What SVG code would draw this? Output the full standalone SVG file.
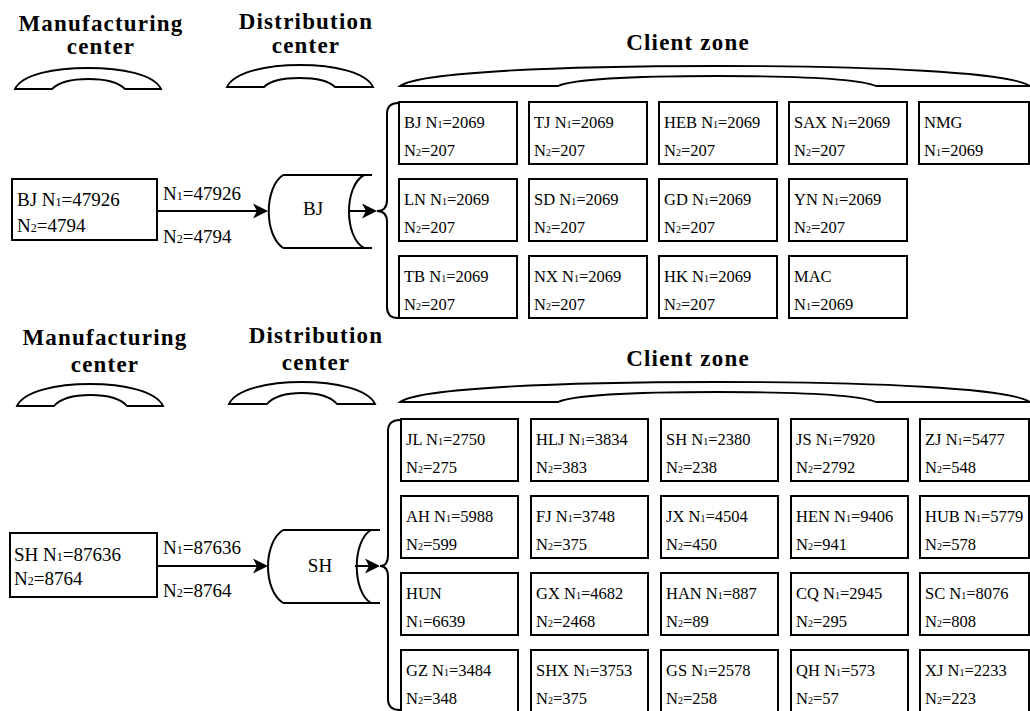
<svg xmlns="http://www.w3.org/2000/svg" width="1030" height="711" viewBox="0 0 1030 711">
<defs>
<marker id="ah" markerUnits="userSpaceOnUse" markerWidth="16" markerHeight="16" refX="13" refY="8" orient="auto" viewBox="0 0 16 16"><path d="M0,0.5 L15,8 L0,15.5 L4,8 Z" fill="#000"/></marker>
</defs>
<style>
.hd{font-family:"Liberation Serif",serif;font-weight:bold;font-size:23px;letter-spacing:1.2px;text-anchor:middle;fill:#000}
.bx{fill:#fff;stroke:#000;stroke-width:2}
.t{font-family:"Liberation Serif",serif;font-size:16.5px;fill:#000}
.s{font-size:10px}
.lt{font-family:"Liberation Serif",serif;font-size:19px;fill:#000}
.lt .s{font-size:12px}
.cy{font-family:"Liberation Serif",serif;font-size:19px;fill:#000;text-anchor:middle}
.br{fill:#fff;stroke:#000;stroke-width:1.8}
.ln{fill:none;stroke:#000;stroke-width:2}
.ar{fill:none;stroke:#000;stroke-width:2;marker-end:url(#ah)}
</style>
<rect width="1030" height="711" fill="#fff"/>

<!-- headers top -->
<g id="hdr-top">
<text class="hd" x="101" y="31">Manufacturing</text>
<text class="hd" x="101" y="54">center</text>
<path class="br" d="M15,89 C22,74 55,68 88,68 C121,68 154,74 161,89 L125,89 C118,82 104,79 88.5,79 C73,79 59,82 52,89 Z"/>
<text class="hd" x="306" y="29">Distribution</text>
<text class="hd" x="306" y="53">center</text>
<path class="br" d="M227,87 C234,72 267,65 300,65 C333,65 366,72 373,87 L335,87 C328,80 314,78 299.5,78 C285,78 271,80 264,87 Z"/>
<text class="hd" x="688" y="50">Client zone</text>
<path class="br" d="M400,86 C420,72 560,66 715,66 C870,66 1010,72 1030,86 L876,86 C860,79 800,76 717,76 C634,76 574,79 558,86 Z"/>
</g>

<!-- headers bottom -->
<g id="hdr-bottom">
<text class="hd" x="105" y="345">Manufacturing</text>
<text class="hd" x="105" y="372">center</text>
<path class="br" d="M17,406 C24,391 57,384 90,384 C123,384 156,391 163,406 L127,406 C120,398 106,395 90.5,395 C75,395 61,398 54,406 Z"/>
<text class="hd" x="316" y="343">Distribution</text>
<text class="hd" x="316" y="370">center</text>
<path class="br" d="M229,404 C236,389 269,382 302,382 C335,382 368,389 375,404 L337,404 C330,396 316,393 302,393 C288,393 274,396 267,404 Z"/>
<text class="hd" x="688" y="366">Client zone</text>
<path class="br" d="M400,402 C420,388 560,382 715,382 C870,382 1010,388 1030,402 L876,402 C860,395 800,392 717,392 C634,392 574,395 558,402 Z"/>
</g>

<!-- connectors -->
<g id="connectors">
<path class="ar" d="M157,211 L266,211"/>
<path class="ar" d="M348,211 L375,211"/>
<path class="ln" d="M398,103 C391,103 387,106 387,114 L387,200 C387,207 384,211 377,211 C384,211 387,215 387,222 L387,307 C387,315 391,318 398,318"/>
<path class="ar" d="M157,566 L266,566"/>
<path class="ar" d="M355,566 L378,566"/>
<path class="ln" d="M400,420 C392,420 388,423 388,431 L388,555 C388,562 385,566 380,566 C385,566 388,570 388,577 L388,699 C388,707 392,710 400,710"/>
<text class="lt" x="163" y="200">N<tspan class="s">1</tspan>=47926</text>
<text class="lt" x="163" y="243">N<tspan class="s">2</tspan>=4794</text>
<text class="lt" x="163" y="554">N<tspan class="s">1</tspan>=87636</text>
<text class="lt" x="163" y="597">N<tspan class="s">2</tspan>=8764</text>
</g>

<!-- source nodes -->
<g id="mfg-BJ">
<rect class="bx" x="12" y="179" width="145" height="61"/>
<text class="lt" x="17" y="206">BJ N<tspan class="s">1</tspan>=47926</text>
<text class="lt" x="17" y="232">N<tspan class="s">2</tspan>=4794</text>
</g>
<g id="mfg-SH">
<rect class="bx" x="10" y="533" width="147" height="64"/>
<text class="lt" x="14" y="561">SH N<tspan class="s">1</tspan>=87636</text>
<text class="lt" x="14" y="585">N<tspan class="s">2</tspan>=8764</text>
</g>

<!-- distribution cylinders -->
<g id="dc-BJ">
<path class="ln" d="M283,175 L372,175 M283,248 L372,248 M283,175 C264,188 264,235 283,248 M364,175 C344,186 344,237 364,248"/>
<text class="cy" x="313" y="215">BJ</text>
</g>
<g id="dc-SH">
<path class="ln" d="M283,530 L380,530 M283,603 L380,603 M283,530 C263,543 263,590 283,603 M371,530 C352,541 352,592 371,603"/>
<text class="cy" x="320" y="572">SH</text>
</g>

<!-- client zone top -->
<g id="z1-BJ"><rect class="bx" x="399" y="102" width="118" height="62"/><text class="t" x="404" y="128">BJ N<tspan class="s">1</tspan>=2069</text><text class="t" x="404" y="156">N<tspan class="s">2</tspan>=207</text></g>
<g id="z1-TJ"><rect class="bx" x="529" y="102" width="118" height="62"/><text class="t" x="534" y="128">TJ N<tspan class="s">1</tspan>=2069</text><text class="t" x="534" y="156">N<tspan class="s">2</tspan>=207</text></g>
<g id="z1-HEB"><rect class="bx" x="659" y="102" width="118" height="62"/><text class="t" x="664" y="128">HEB N<tspan class="s">1</tspan>=2069</text><text class="t" x="664" y="156">N<tspan class="s">2</tspan>=207</text></g>
<g id="z1-SAX"><rect class="bx" x="789" y="102" width="118" height="62"/><text class="t" x="794" y="128">SAX N<tspan class="s">1</tspan>=2069</text><text class="t" x="794" y="156">N<tspan class="s">2</tspan>=207</text></g>
<g id="z1-NMG"><rect class="bx" x="919" y="102" width="110" height="62"/><text class="t" x="924" y="128">NMG</text><text class="t" x="924" y="156">N<tspan class="s">1</tspan>=2069</text></g>

<g id="z1-LN"><rect class="bx" x="399" y="179" width="118" height="62"/><text class="t" x="404" y="205">LN N<tspan class="s">1</tspan>=2069</text><text class="t" x="404" y="233">N<tspan class="s">2</tspan>=207</text></g>
<g id="z1-SD"><rect class="bx" x="529" y="179" width="118" height="62"/><text class="t" x="534" y="205">SD N<tspan class="s">1</tspan>=2069</text><text class="t" x="534" y="233">N<tspan class="s">2</tspan>=207</text></g>
<g id="z1-GD"><rect class="bx" x="659" y="179" width="118" height="62"/><text class="t" x="664" y="205">GD N<tspan class="s">1</tspan>=2069</text><text class="t" x="664" y="233">N<tspan class="s">2</tspan>=207</text></g>
<g id="z1-YN"><rect class="bx" x="789" y="179" width="118" height="62"/><text class="t" x="794" y="205">YN N<tspan class="s">1</tspan>=2069</text><text class="t" x="794" y="233">N<tspan class="s">2</tspan>=207</text></g>

<g id="z1-TB"><rect class="bx" x="399" y="256" width="118" height="62"/><text class="t" x="404" y="282">TB N<tspan class="s">1</tspan>=2069</text><text class="t" x="404" y="310">N<tspan class="s">2</tspan>=207</text></g>
<g id="z1-NX"><rect class="bx" x="529" y="256" width="118" height="62"/><text class="t" x="534" y="282">NX N<tspan class="s">1</tspan>=2069</text><text class="t" x="534" y="310">N<tspan class="s">2</tspan>=207</text></g>
<g id="z1-HK"><rect class="bx" x="659" y="256" width="118" height="62"/><text class="t" x="664" y="282">HK N<tspan class="s">1</tspan>=2069</text><text class="t" x="664" y="310">N<tspan class="s">2</tspan>=207</text></g>
<g id="z1-MAC"><rect class="bx" x="789" y="256" width="118" height="62"/><text class="t" x="794" y="282">MAC</text><text class="t" x="794" y="310">N<tspan class="s">1</tspan>=2069</text></g>

<!-- client zone bottom -->
<g id="z2-JL"><rect class="bx" x="401" y="419" width="117" height="62"/><text class="t" x="406" y="445">JL N<tspan class="s">1</tspan>=2750</text><text class="t" x="406" y="473">N<tspan class="s">2</tspan>=275</text></g>
<g id="z2-HLJ"><rect class="bx" x="531" y="419" width="117" height="62"/><text class="t" x="536" y="445">HLJ N<tspan class="s">1</tspan>=3834</text><text class="t" x="536" y="473">N<tspan class="s">2</tspan>=383</text></g>
<g id="z2-SH"><rect class="bx" x="661" y="419" width="117" height="62"/><text class="t" x="666" y="445">SH N<tspan class="s">1</tspan>=2380</text><text class="t" x="666" y="473">N<tspan class="s">2</tspan>=238</text></g>
<g id="z2-JS"><rect class="bx" x="791" y="419" width="117" height="62"/><text class="t" x="796" y="445">JS N<tspan class="s">1</tspan>=7920</text><text class="t" x="796" y="473">N<tspan class="s">2</tspan>=2792</text></g>
<g id="z2-ZJ"><rect class="bx" x="920" y="419" width="109" height="62"/><text class="t" x="925" y="445">ZJ N<tspan class="s">1</tspan>=5477</text><text class="t" x="925" y="473">N<tspan class="s">2</tspan>=548</text></g>

<g id="z2-AH"><rect class="bx" x="401" y="496" width="117" height="62"/><text class="t" x="406" y="522">AH N<tspan class="s">1</tspan>=5988</text><text class="t" x="406" y="550">N<tspan class="s">2</tspan>=599</text></g>
<g id="z2-FJ"><rect class="bx" x="531" y="496" width="117" height="62"/><text class="t" x="536" y="522">FJ N<tspan class="s">1</tspan>=3748</text><text class="t" x="536" y="550">N<tspan class="s">2</tspan>=375</text></g>
<g id="z2-JX"><rect class="bx" x="661" y="496" width="117" height="62"/><text class="t" x="666" y="522">JX N<tspan class="s">1</tspan>=4504</text><text class="t" x="666" y="550">N<tspan class="s">2</tspan>=450</text></g>
<g id="z2-HEN"><rect class="bx" x="791" y="496" width="117" height="62"/><text class="t" x="796" y="522">HEN N<tspan class="s">1</tspan>=9406</text><text class="t" x="796" y="550">N<tspan class="s">2</tspan>=941</text></g>
<g id="z2-HUB"><rect class="bx" x="920" y="496" width="109" height="62"/><text class="t" x="925" y="522">HUB N<tspan class="s">1</tspan>=5779</text><text class="t" x="925" y="550">N<tspan class="s">2</tspan>=578</text></g>

<g id="z2-HUN"><rect class="bx" x="401" y="573" width="117" height="62"/><text class="t" x="406" y="599">HUN</text><text class="t" x="406" y="627">N<tspan class="s">1</tspan>=6639</text></g>
<g id="z2-GX"><rect class="bx" x="531" y="573" width="117" height="62"/><text class="t" x="536" y="599">GX N<tspan class="s">1</tspan>=4682</text><text class="t" x="536" y="627">N<tspan class="s">2</tspan>=2468</text></g>
<g id="z2-HAN"><rect class="bx" x="661" y="573" width="117" height="62"/><text class="t" x="666" y="599">HAN N<tspan class="s">1</tspan>=887</text><text class="t" x="666" y="627">N<tspan class="s">2</tspan>=89</text></g>
<g id="z2-CQ"><rect class="bx" x="791" y="573" width="117" height="62"/><text class="t" x="796" y="599">CQ N<tspan class="s">1</tspan>=2945</text><text class="t" x="796" y="627">N<tspan class="s">2</tspan>=295</text></g>
<g id="z2-SC"><rect class="bx" x="920" y="573" width="109" height="62"/><text class="t" x="925" y="599">SC N<tspan class="s">1</tspan>=8076</text><text class="t" x="925" y="627">N<tspan class="s">2</tspan>=808</text></g>

<g id="z2-GZ"><rect class="bx" x="401" y="650" width="117" height="70"/><text class="t" x="406" y="676">GZ N<tspan class="s">1</tspan>=3484</text><text class="t" x="406" y="704">N<tspan class="s">2</tspan>=348</text></g>
<g id="z2-SHX"><rect class="bx" x="531" y="650" width="117" height="70"/><text class="t" x="536" y="676">SHX N<tspan class="s">1</tspan>=3753</text><text class="t" x="536" y="704">N<tspan class="s">2</tspan>=375</text></g>
<g id="z2-GS"><rect class="bx" x="661" y="650" width="117" height="70"/><text class="t" x="666" y="676">GS N<tspan class="s">1</tspan>=2578</text><text class="t" x="666" y="704">N<tspan class="s">2</tspan>=258</text></g>
<g id="z2-QH"><rect class="bx" x="791" y="650" width="117" height="70"/><text class="t" x="796" y="676">QH N<tspan class="s">1</tspan>=573</text><text class="t" x="796" y="704">N<tspan class="s">2</tspan>=57</text></g>
<g id="z2-XJ"><rect class="bx" x="920" y="650" width="109" height="70"/><text class="t" x="925" y="676">XJ N<tspan class="s">1</tspan>=2233</text><text class="t" x="925" y="704">N<tspan class="s">2</tspan>=223</text></g>
</svg>
